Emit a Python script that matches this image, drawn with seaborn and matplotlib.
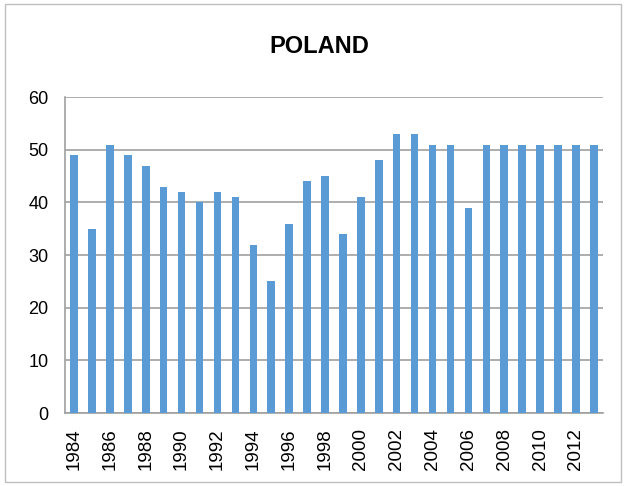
#!/usr/bin/env python3
"""Bar chart of yearly values for Poland, 1984-2013."""

import matplotlib.pyplot as plt
import pandas as pd
import seaborn as sns
from matplotlib.patches import Rectangle

years = list(range(1984, 2014))
values = [49, 35, 51, 49, 47, 43, 42, 40, 42, 41,
          32, 25, 36, 44, 45, 34, 41, 48, 53, 53,
          51, 51, 39, 51, 51, 51, 51, 51, 51, 51]
y_ticks = [0, 10, 20, 30, 40, 50, 60]


def main():
    df = pd.DataFrame({"year": [str(y) for y in years], "value": values})

    sns.set_style("white")
    plt.rcParams["font.family"] = ["Liberation Sans", "DejaVu Sans"]
    plt.rcParams["text.color"] = "black"

    fig = plt.figure(figsize=(6.26, 4.86), dpi=100)
    ax = fig.add_axes([0.104, 0.150, 0.859, 0.650])
    sns.barplot(data=df, x="year", y="value", color="#5b9bd5",
                width=0.42, saturation=1, linewidth=0, ax=ax, zorder=3)

    ax.set_xlim(-0.5, len(years) - 0.5)
    ax.set_ylim(0, 60)
    ax.set_yticks(y_ticks)
    ax.yaxis.grid(True, color="#a0a0a0", linewidth=1.2, linestyle="-",
                  zorder=0)
    ax.set_axisbelow(True)

    # labels every other year, tick marks on category boundaries
    ax.set_xticks(range(0, len(years), 2))
    ax.set_xticklabels([str(y) for y in years[::2]], rotation=90)
    ax.set_xticks([i - 0.5 for i in range(len(years) + 1)], minor=True)
    ax.tick_params(axis="x", which="major", length=0, labelsize=13.5, pad=11,
                   labelcolor="black")
    ax.tick_params(axis="x", which="minor", length=7, color="#a0a0a0",
                   width=1.2, direction="out")
    ax.tick_params(axis="y", length=7, color="#a0a0a0", width=1.2,
                   labelsize=13, direction="out", pad=5, labelcolor="black")
    ax.set_xlabel("")
    ax.set_ylabel("")

    for side in ["top", "right"]:
        ax.spines[side].set_visible(False)
    for side in ["left", "bottom"]:
        ax.spines[side].set_color("#a0a0a0")
        ax.spines[side].set_linewidth(1.2)

    fig.text(0.51, 0.905, "POLAND", ha="center", va="center",
             fontsize=17, fontweight="bold", color="black")

    # chart frame
    fig.patches.append(Rectangle((0.008, 0.008), 0.984, 0.984,
                                 transform=fig.transFigure, fill=False,
                                 edgecolor="#bfbfbf", linewidth=1))

    fig.savefig("out.png", dpi=100)


if __name__ == "__main__":
    main()
